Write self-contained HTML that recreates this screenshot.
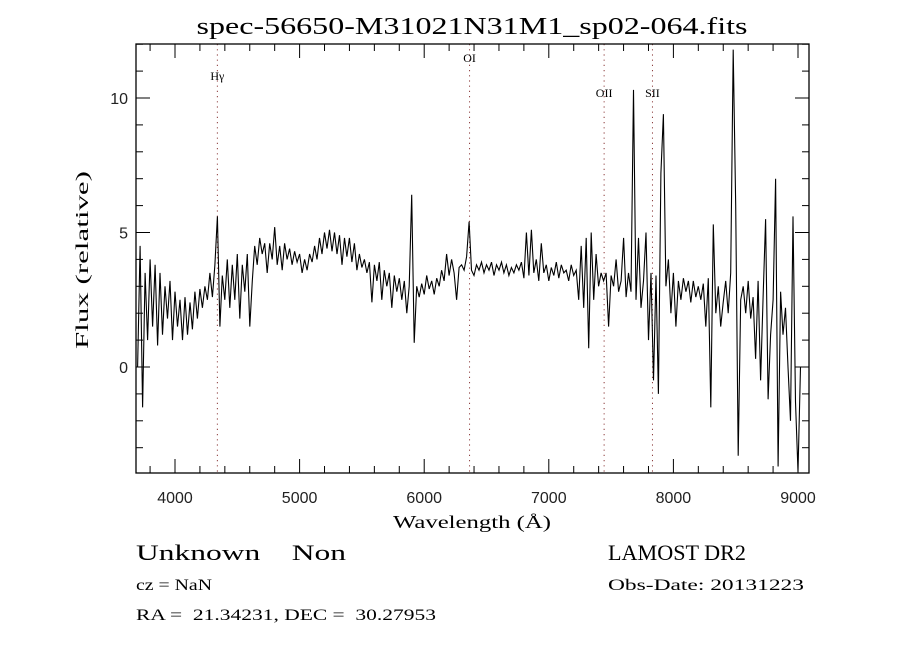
<!DOCTYPE html>
<html><head><meta charset="utf-8"><style>
html,body{margin:0;padding:0;background:#fff;}
svg{display:block;}
text{font-family:"Liberation Serif",serif;fill:#000;white-space:pre;}
.tk{font-family:"Liberation Sans",sans-serif;font-size:16px;fill:#222;}
</style></head><body>
<svg id="chart" width="900" height="650" viewBox="0 0 900 650" xml:space="preserve">
<text x="472" y="34" text-anchor="middle" font-size="24" textLength="551" lengthAdjust="spacingAndGlyphs">spec-56650-M31021N31M1_sp02-064.fits</text>
<g id="lines"></g>
<g id="axes"></g>
<path id="spec" fill="none" stroke="#000" stroke-width="1.1"></path>
<text x="472" y="528" text-anchor="middle" font-size="18" textLength="158" lengthAdjust="spacingAndGlyphs">Wavelength (Å)</text>
<text transform="translate(88,260) rotate(-90)" text-anchor="middle" font-size="18" textLength="178" lengthAdjust="spacingAndGlyphs">Flux (relative)</text>
<text x="136" y="560" font-size="22" textLength="210" lengthAdjust="spacingAndGlyphs">Unknown    Non</text>
<text x="608" y="560" font-size="22" textLength="138" lengthAdjust="spacingAndGlyphs">LAMOST DR2</text>
<text x="136" y="590" font-size="16" textLength="76" lengthAdjust="spacingAndGlyphs">cz = NaN</text>
<text x="608" y="590" font-size="16" textLength="196" lengthAdjust="spacingAndGlyphs">Obs-Date: 20131223</text>
<text x="136" y="620" font-size="16" textLength="300" lengthAdjust="spacingAndGlyphs">RA =  21.34231, DEC =  30.27953</text>
</svg>
<script>
const waveStart = 3700, waveStep = 20;
const flux = [0,4.5,-1.5,3.5,1.0,4.0,1.5,3.8,0.8,3.5,1.2,3.0,1.8,3.2,1.0,2.8,1.5,2.5,1.0,2.6,1.2,2.4,1.4,2.8,1.8,2.9,2.2,3.0,2.5,3.5,2.6,3.8,5.6,1.5,3.4,2.5,4.0,2.2,3.8,2.5,4.2,1.8,3.8,2.8,4.2,1.5,
3.2,4.5,3.8,4.8,4.2,4.6,3.5,4.6,4.0,5.2,3.8,4.5,3.6,4.6,4.0,4.4,3.8,4.3,3.9,4.2,3.5,4.0,3.6,4.2,3.9,4.5,4.0,4.8,4.2,5.0,4.4,5.1,4.3,5.0,4.2,4.9,3.8,4.8,4.1,4.8,3.9,4.6,3.6,4.2,3.7,4.0,3.5,3.9,2.4,3.8,3.2,3.9,2.5,3.6,3.0,3.5,2.2,3.4,2.8,3.3,2.5,3.2,2.0,3.0,6.4,0.9,3.0,2.6,3.1,2.7,3.4,2.9,3.2,2.7,3.3,3.0,3.6,3.2,4.2,3.4,4.0,3.5,2.5,3.7,3.8,3.6,4.1,5.4,3.6,
3.4,3.8,3.6,3.9,3.5,3.8,3.6,3.9,3.4,3.8,3.6,3.9,3.5,3.8,3.4,3.7,3.5,3.8,3.6,3.9,3.3,5.0,3.4,5.1,3.5,4.0,3.2,4.6,3.5,3.8,3.2,3.7,3.4,3.9,3.3,3.8,3.5,3.6,3.2,3.8,3.4,3.6,2.5,4.5,2.2,4.8,0.7,5.0,2.5,4.2,3.0,3.5,3.2,3.5,1.5,3.4,3.0,4.0,2.8,3.2,4.8,2.6,3.5,2.8,10.3,2.5,4.8,2.2,3.2,5.0,1.0,3.5,-0.5,3.4,-1.0,7.2,9.4,3.0,4.0,2.0,3.5,1.5,3.2,2.5,3.3,2.8,3.2,2.4,3.2,2.6,3.0,2.5,3.1,1.5,3.3,-1.5,5.3,2.0,3.0,1.5,2.4,3.2,2.0,3.5,11.8,6.0,-3.3,2.5,3.0,2.0,3.2,1.8,2.6,0.3,3.2,-0.5,2.6,5.5,-1.2,1.2,2.5,7.0,-3.7,2.8,1.2,2.2,0.0,-2.0,5.6,-1.3,-3.9,0.0];
const xTicks = [4000,5000,6000,7000,8000,9000];
const yTicks = [0,5,10];
const lineNames = ["Hγ","OI","OII","SII"];
const lineWaves = [4340,6364,7444,7832];
const lineLabelY = [80,62,97,97];

const L=136,R=809,T=44,B=473;
const x = w => 175 + (w-4000)*0.1246;
const y = f => 367 - f*26.9;
const NS='http://www.w3.org/2000/svg';
function mk(tag, attrs, parent){const e=document.createElementNS(NS,tag);for(const k in attrs)e.setAttribute(k,attrs[k]);parent.appendChild(e);return e;}

let d='';
flux.forEach((f,i)=>{const w=waveStart+i*waveStep;d+=(i?'L':'M')+x(w).toFixed(1)+','+Math.min(B,Math.max(T,y(f))).toFixed(1);});
document.getElementById('spec').setAttribute('d',d);

const ax=document.getElementById('axes');
const frame=mk('rect',{x:L,y:T,width:R-L,height:B-T,fill:'none',stroke:'#000','stroke-width':1.3},ax);


for(let w=3800;w<=9000;w+=200){
  const major=w%1000===0, len=major?14:7, xx=x(w);
  const t1=mk('line',{x1:xx,x2:xx,y1:B,y2:B-len,stroke:'#000'},ax);
  
  
  const t2=mk('line',{x1:xx,x2:xx,y1:T,y2:T+len,stroke:'#000'},ax);
  
  
}
xTicks.forEach(v=>{
  const t=mk('text',{x:x(v),y:503,'text-anchor':'middle',class:'tk'},ax);t.textContent=v;
  
  
});
for(let v=-3;v<=12;v++){
  const major=v%5===0, len=major?14:7, yy=y(v);
  if(yy<T||yy>B)continue;
  const t1=mk('line',{x1:L,x2:L+len,y1:yy,y2:yy,stroke:'#000'},ax);
  
  
  const t2=mk('line',{x1:R,x2:R-len,y1:yy,y2:yy,stroke:'#000'},ax);
  
  
}
yTicks.forEach(v=>{
  const t=mk('text',{x:128,y:y(v)+6,'text-anchor':'end',class:'tk'},ax);t.textContent=v;
  
  
});
const lg=document.getElementById('lines');
lineWaves.forEach((w,i)=>{
  const ln=mk('line',{x1:x(w),x2:x(w),y1:T,y2:B,stroke:'#8b3a3a','stroke-width':1,'stroke-dasharray':'1.2,4'},lg);
  
  
  const t=mk('text',{x:x(w),y:lineLabelY[i],'text-anchor':'middle','font-size':12},lg);t.textContent=lineNames[i];
  
  
});
</script>
</body></html>
